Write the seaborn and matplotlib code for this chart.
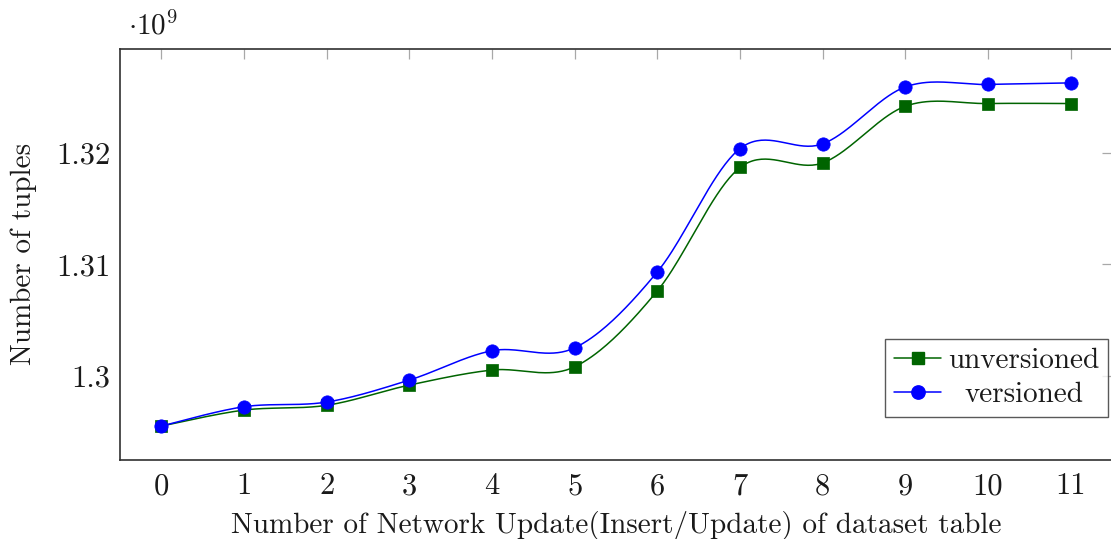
import numpy as np
import pandas as pd
import matplotlib
matplotlib.use("Agg")
import matplotlib.pyplot as plt
from matplotlib.lines import Line2D
from matplotlib.transforms import Affine2D
from matplotlib.ticker import FixedLocator, FixedFormatter
import seaborn as sns

# ---- data (number of tuples, in units of 10^9) ----
updates = list(range(12))
unversioned = [1.29552, 1.29695, 1.29738, 1.29919, 1.30054, 1.30083,
               1.30764, 1.31869, 1.31910, 1.32418, 1.32442, 1.32442]
versioned = [1.29552, 1.29725, 1.29767, 1.29964, 1.30227, 1.30253,
             1.30934, 1.32039, 1.32081, 1.32591, 1.32613, 1.32627]
series_names = ["unversioned", "versioned"]
y_ticks = [1.30, 1.31, 1.32]
y_tick_labels = ["1.3", "1.31", "1.32"]

GREEN = "#006400"
BLUE = "#0000ff"
TEXT = "#1a1a1a"

sns.set_theme(style="white")
plt.rcParams["font.family"] = ["cmr10", "DejaVu Serif"]
plt.rcParams["mathtext.fontset"] = "cm"
plt.rcParams["axes.formatter.use_mathtext"] = True
plt.rcParams["axes.unicode_minus"] = False


def smooth_curve(x, y, k=0.165, n=40):
    """Piecewise cubic Bezier through the points (TikZ-style 'smooth')."""
    p = np.column_stack([x, y]).astype(float)
    m = len(p)
    out = []
    for i in range(m - 1):
        p0 = p[i]
        p3 = p[i + 1]
        prev = p[i - 1] if i > 0 else p[i]
        nxt = p[i + 2] if i + 2 < m else p[i + 1]
        c1 = p0 + k * (p3 - prev)
        c2 = p3 - k * (nxt - p0)
        t = np.linspace(0, 1, n)[:, None]
        seg = ((1 - t) ** 3) * p0 + 3 * ((1 - t) ** 2) * t * c1 \
            + 3 * (1 - t) * t ** 2 * c2 + t ** 3 * p3
        out.append(seg if i == 0 else seg[1:])
    s = np.vstack(out)
    return s[:, 0], s[:, 1]


df = pd.DataFrame({
    "update": updates * 2,
    "tuples": unversioned + versioned,
    "series": [series_names[0]] * len(updates) + [series_names[1]] * len(updates),
})

fig = plt.figure(figsize=(11.11, 5.39), dpi=100)
ax = fig.add_axes([0.108, 0.146, 0.893, 0.764])

styles = {
    "unversioned": dict(color=GREEN, marker="s", ms=8.4),
    "versioned": dict(color=BLUE, marker="o", ms=9.6),
}

for name in series_names:
    sub = df[df["series"] == name]
    sx, sy = smooth_curve(sub["update"].values, sub["tuples"].values)
    ax.plot(sx, sy, color=styles[name]["color"], lw=1.1, zorder=2)
    sns.scatterplot(data=sub, x="update", y="tuples", ax=ax,
                    color=styles[name]["color"], marker=styles[name]["marker"],
                    s=styles[name]["ms"] ** 2, edgecolor=styles[name]["color"],
                    linewidth=0.5, legend=False, zorder=3)

ax.set_xlim(-0.5, 11.5)
ax.set_ylim(1.29245, 1.329351)
ax.set_xticks(updates)
ax.set_xticklabels([str(u) for u in updates])
ax.yaxis.set_major_locator(FixedLocator(y_ticks))
ax.yaxis.set_major_formatter(FixedFormatter(y_tick_labels))

ax.tick_params(axis="both", which="major", direction="in", length=7.5,
               width=0.9, color="#a8a8a8", labelsize=22,
               top=True, right=True, labelcolor=TEXT)
ax.tick_params(axis="y", pad=7)
ax.tick_params(axis="x", pad=9)
for sp in ax.spines.values():
    sp.set_color("#303030")
    sp.set_linewidth(1.2)
    sp.set_visible(True)

ax.set_xlabel("Number of Network Update(Insert/Update) of dataset table",
              fontsize=21, color=TEXT, labelpad=8)
ax.set_ylabel("Number of tuples", fontsize=21, color=TEXT, labelpad=14)

fig.text(0.115, 0.925, r"$\cdot 10^9$", fontsize=21, color=TEXT,
         ha="left", va="bottom")

handles = [
    Line2D([], [], color=GREEN, lw=1.1, marker="s", ms=8.4, mec=GREEN),
    Line2D([], [], color=BLUE, lw=1.1, marker="o", ms=9.6, mec=BLUE),
]
leg = ax.legend(handles, series_names, loc="lower right",
                bbox_to_anchor=(0.996, 0.105), borderaxespad=0,
                fontsize=21, frameon=True, fancybox=False,
                handlelength=1.6, handletextpad=0.25, borderpad=0.3,
                labelspacing=0.28)
leg.get_frame().set_edgecolor("#303030")
leg.get_frame().set_linewidth(1.0)
for t in leg.get_texts():
    t.set_color(TEXT)

# centre the shorter entry text under the longer one
fig.canvas.draw()
renderer = fig.canvas.get_renderer()
texts = leg.get_texts()
widths = [t.get_window_extent(renderer).width for t in texts]
wmax = max(widths)
for t, w in zip(texts, widths):
    dx = (wmax - w) / 2.0
    if dx > 0:
        t.set_transform(t.get_transform() + Affine2D().translate(dx, 0))

fig.savefig("out.png", dpi=100)
